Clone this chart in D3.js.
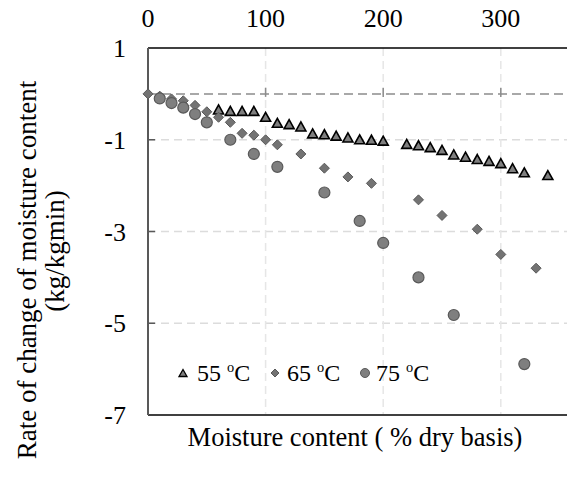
<!DOCTYPE html>
<html><head><meta charset="utf-8">
<script src="https://cdn.jsdelivr.net/npm/d3@7"></script>
<style>body{margin:0;background:#fff}svg{display:block}</style>
</head><body><div id="chart"></div>
<script>
const xTicks = [0, 100, 200, 300];
const yTicks = [1, -1, -3, -5, -7];
const yGrid = [-1, -3, -5];
const seriesNames = ["55 ºC", "65 ºC", "75 ºC"];

const moisture55 = [60,70,80,90,100,110,120,130,140,150,160,170,180,190,200,220,230,240,250,260,270,280,290,300,310,320,340];
const rate55 = [-0.34,-0.37,-0.37,-0.37,-0.50,-0.63,-0.66,-0.71,-0.86,-0.88,-0.91,-0.95,-0.99,-1.00,-1.02,-1.09,-1.12,-1.16,-1.22,-1.32,-1.37,-1.42,-1.46,-1.51,-1.62,-1.71,-1.77];

const moisture65 = [0,10,20,30,40,50,60,70,80,90,100,110,130,150,170,190,230,250,280,300,330];
const rate65 = [0,-0.05,-0.11,-0.15,-0.25,-0.39,-0.51,-0.62,-0.86,-0.90,-1.0,-1.11,-1.31,-1.62,-1.81,-1.95,-2.31,-2.65,-2.95,-3.50,-3.80];

const moisture75 = [10,20,30,40,50,70,90,110,150,180,200,230,260,320];
const rate75 = [-0.10,-0.20,-0.30,-0.44,-0.62,-1.0,-1.31,-1.59,-2.15,-2.77,-3.25,-4.0,-4.82,-5.89];

const W = 567, H = 497;
const svg = d3.select("#chart").append("svg").attr("width", W).attr("height", H)
  .attr("font-family", "'Liberation Serif', 'Times New Roman', serif");

const x = d3.scaleLinear().domain([0, 360]).range([148, 148 + 360 * 1.176]);
const y = d3.scaleLinear().domain([-7, 1]).range([415, 48]);

// grid
svg.append("g").selectAll("line").data(yGrid).join("line")
  .attr("x1", x(0)).attr("x2", W).attr("y1", d => y(d)).attr("y2", d => y(d))
  .attr("stroke", "#dcdcdc").attr("stroke-width", 1.5).attr("stroke-dasharray", "8,5");
svg.append("g").selectAll("line").data(xTicks.filter(d => d > 0)).join("line")
  .attr("y1", y(1)).attr("y2", y(-7)).attr("x1", d => x(d)).attr("x2", d => x(d))
  .attr("stroke", "#e6e6e6").attr("stroke-width", 1.5).attr("stroke-dasharray", "8,5");

// zero axis (dashed)
svg.append("line").attr("x1", x(0)).attr("x2", W).attr("y1", y(0)).attr("y2", y(0))
  .attr("stroke", "#8c8c8c").attr("stroke-width", 1.5).attr("stroke-dasharray", "9,5");
svg.append("g").selectAll("line").data(xTicks.filter(d => d > 0)).join("line")
  .attr("x1", d => x(d)).attr("x2", d => x(d)).attr("y1", y(0) - 6).attr("y2", y(0) + 3)
  .attr("stroke", "#8c8c8c").attr("stroke-width", 1.5);

// frame lines
svg.append("line").attr("x1", x(0)).attr("x2", W).attr("y1", y(1)).attr("y2", y(1))
  .attr("stroke", "#000").attr("stroke-width", 1.5);
svg.append("line").attr("x1", x(0)).attr("x2", W).attr("y1", y(-7)).attr("y2", y(-7))
  .attr("stroke", "#404040").attr("stroke-width", 2);
svg.append("line").attr("x1", x(0)).attr("x2", x(0)).attr("y1", y(1)).attr("y2", y(-7))
  .attr("stroke", "#595959").attr("stroke-width", 2);
svg.append("g").selectAll("line").data(yGrid).join("line")
  .attr("x1", x(0)).attr("x2", x(0) + 7).attr("y1", d => y(d)).attr("y2", d => y(d))
  .attr("stroke", "#595959").attr("stroke-width", 1.5);

// tick labels
const fsTick = 26, fsX = 26.5, fsY = 27, fsLeg = 24;
svg.append("g").selectAll("text").data(xTicks).join("text")
  .attr("x", d => x(d)).attr("y", 27).attr("text-anchor", "middle").attr("font-size", fsTick).text(d => d);
svg.append("g").selectAll("text").data(yTicks).join("text")
  .attr("x", 126).attr("y", d => y(d)).attr("dy", "0.35em").attr("text-anchor", "end").attr("font-size", fsTick).text(d => d);

// axis titles
svg.append("text").attr("x", 355).attr("y", 446).attr("text-anchor", "middle").attr("font-size", fsX)
  .text("Moisture content ( % dry basis)");
svg.append("text").attr("transform", "translate(36,270) rotate(-90)").attr("text-anchor", "middle").attr("font-size", fsY)
  .text("Rate of change of moisture content");
svg.append("text").attr("transform", "translate(64,251) rotate(-90)").attr("text-anchor", "middle").attr("font-size", fsY)
  .text("(kg/kgmin)");

// markers
const tri = (w, h) => `M0,${-h/2}L${w/2},${h/2}L${-w/2},${h/2}Z`;
const dia = r => `M0,${-r}L${r},0L0,${r}L${-r},0Z`;

const d55 = moisture55.map((m, i) => ({m, r: rate55[i]}));
const d65 = moisture65.map((m, i) => ({m, r: rate65[i]}));
const d75 = moisture75.map((m, i) => ({m, r: rate75[i]}));

svg.append("g").selectAll("path").data(d55).join("path")
  .attr("d", tri(10, 9)).attr("transform", d => `translate(${x(d.m)},${y(d.r)})`)
  .attr("fill", "#7f7f7f").attr("stroke", "#000").attr("stroke-width", 1.6);
svg.append("g").selectAll("path").data(d65).join("path")
  .attr("d", dia(5)).attr("transform", d => `translate(${x(d.m)},${y(d.r)})`)
  .attr("fill", "#737373").attr("stroke", "#595959").attr("stroke-width", 1);
svg.append("g").selectAll("circle").data(d75).join("circle")
  .attr("cx", d => x(d.m)).attr("cy", d => y(d.r)).attr("r", 5.5)
  .attr("fill", "#7f7f7f").attr("stroke", "#595959").attr("stroke-width", 1.2);

// legend
const ly = 373;
const leg = svg.append("g");
leg.append("path").attr("d", tri(8, 7)).attr("transform", `translate(183,${ly})`)
  .attr("fill", "#7f7f7f").attr("stroke", "#000").attr("stroke-width", 1.3);
leg.append("path").attr("d", dia(4)).attr("transform", `translate(275,${ly})`)
  .attr("fill", "#737373").attr("stroke", "#595959").attr("stroke-width", 1);
leg.append("circle").attr("cx", 365).attr("cy", ly).attr("r", 4.5)
  .attr("fill", "#7f7f7f").attr("stroke", "#595959").attr("stroke-width", 1);
const legX = [197, 287, 376];
seriesNames.forEach((n, i) => {
  const parts = n.split("º");
  const t = leg.append("text").attr("x", legX[i]).attr("y", ly + 8).attr("font-size", fsLeg);
  t.append("tspan").text(parts[0]);
  t.append("tspan").attr("font-size", fsLeg * 0.6).attr("dy", -9).text("o");
  t.append("tspan").attr("dy", 9).text(parts[1]);
});
</script></body></html>
